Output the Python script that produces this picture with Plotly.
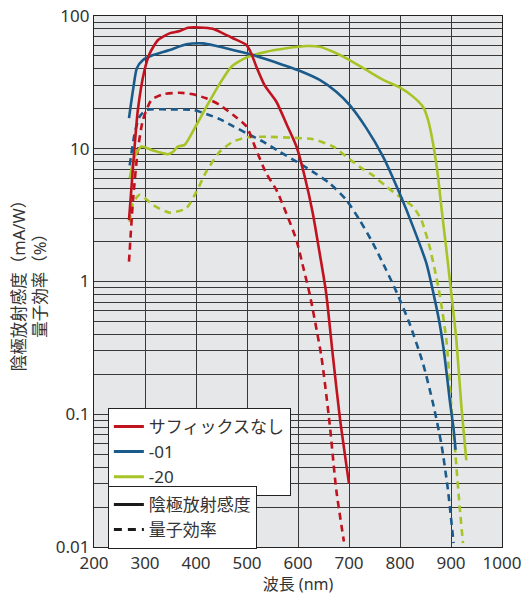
import plotly.graph_objects as go

# ---- data ----
red_solid_x = [268.6, 276.5, 286, 299, 309, 325.5, 348, 368, 384, 407, 433, 453, 472.5, 499, 508.6, 518.4, 534.7, 557.6, 577, 597, 613, 629, 642.5, 655, 668.6, 681.8, 700]
red_solid_y = [2.9, 7.3, 19.6, 39, 52, 66, 74, 77, 81.7, 82, 80, 74, 68, 60.5, 52, 41.5, 30, 22.6, 15.5, 10.4, 6.2, 3.27, 1.63, 0.83, 0.27, 0.096, 0.030]

red_dash_x = [268.6, 276.5, 286, 296, 312.5, 335, 368, 394, 420, 446.5, 472.5, 499, 518, 538, 557.6, 577, 597, 610, 623, 646, 662, 675, 690]
red_dash_y = [1.41, 4.1, 9.8, 16.5, 23.3, 25.7, 26.4, 25.7, 24, 21.4, 18, 14.7, 9.8, 6.5, 4.9, 3.27, 2.05, 1.29, 0.8, 0.27, 0.085, 0.027, 0.011]

blue_solid_x = [268.6, 276.5, 284, 296, 315.7, 348.4, 381, 413.7, 440, 472.5, 505, 538, 570.6, 603, 642.5, 675, 701, 734, 767, 799.4, 825.5, 851.8, 866, 877.8, 887.6, 897.5, 905.3, 909]
blue_solid_y = [17, 27.7, 40.4, 46.6, 50.8, 55.5, 61.2, 62.2, 59.4, 55.5, 51.7, 47.2, 42.8, 38.7, 33, 26.9, 21.4, 14.3, 8.7, 4.6, 2.59, 1.37, 0.8, 0.48, 0.27, 0.128, 0.076, 0.054]

blue_dash_x = [270, 279.8, 289.6, 302.7, 342, 394, 420, 446.5, 472.5, 499, 531.4, 564, 597, 629.4, 662, 695, 721, 747, 773, 794, 819, 845, 864.7, 881, 894, 905]
blue_dash_y = [7.5, 13.1, 17.5, 19.6, 19.8, 19.6, 18.3, 16.7, 14.8, 13.1, 11.3, 9.5, 8.0, 6.7, 5.5, 4.1, 2.9, 1.94, 1.22, 0.82, 0.48, 0.242, 0.121, 0.060, 0.027, 0.0107]

green_solid_x = [270, 279.8, 293, 315.7, 345, 355, 364.7, 377.8, 400.8, 420.4, 443, 469.4, 499, 538, 577, 616.5, 642.5, 668.6, 701.4, 734, 767, 799.4, 825.5, 845, 855, 864.7, 874.5, 881, 891, 900.8, 910.6, 920.4, 930]
green_solid_y = [6.0, 8.7, 10.4, 9.7, 9.1, 9.5, 10.4, 10.7, 15.1, 20.7, 29.4, 41.5, 48.8, 53.8, 57.1, 59.4, 58.7, 53.8, 46.6, 39.2, 33, 29, 24.7, 20.7, 16.5, 11, 6.2, 3.66, 1.73, 0.8, 0.36, 0.114, 0.045]

green_dash_x = [270, 276.5, 289.6, 315.7, 348.4, 381, 400.8, 420, 446.5, 472.5, 499, 538, 590, 629.4, 668.6, 695, 721, 747, 773, 799.4, 825.5, 842, 858, 871, 877.8, 891, 900.8, 909, 917, 923.5]
green_dash_y = [2.8, 3.9, 4.5, 3.77, 3.3, 3.56, 4.75, 6.7, 9.5, 11.3, 12.2, 12.3, 12.1, 11.8, 10.4, 8.7, 7.3, 6.3, 5.2, 4.35, 3.66, 2.9, 1.83, 1.09, 0.8, 0.36, 0.114, 0.048, 0.020, 0.0107]

series_names = ["サフィックスなし", "-01", "-20"]
style_names = ["陰極放射感度", "量子効率"]
x_ticks = [200, 300, 400, 500, 600, 700, 800, 900, 1000]
y_major = [0.01, 0.1, 1, 10, 100]
y_major_text = ["0.01", "0.1", "1", "10", "100"]

RED = "#c1121f"
BLUE = "#1a5b8c"
GREEN = "#a6c425"
DASH = "7px,5px"
FONT = "Noto Sans, Noto Sans CJK JP"
TXT = "#333333"

fig = go.Figure()

def add(x, y, color, dash):
    fig.add_trace(go.Scatter(x=x, y=y, mode="lines",
                             line=dict(color=color, width=2.6, dash=dash, shape="spline", smoothing=0.6),
                             showlegend=False, hoverinfo="skip"))

add(green_dash_x, green_dash_y, GREEN, DASH)
add(blue_dash_x, blue_dash_y, BLUE, DASH)
add(red_dash_x, red_dash_y, RED, DASH)
add(green_solid_x, green_solid_y, GREEN, "solid")
add(blue_solid_x, blue_solid_y, BLUE, "solid")
add(red_solid_x, red_solid_y, RED, "solid")

# legend entries
for name, color in zip(series_names, [RED, BLUE, GREEN]):
    fig.add_trace(go.Scatter(x=[None], y=[None], mode="lines", name=name,
                             line=dict(color=color, width=3), legend="legend"))
for name, dash in zip(style_names, ["solid", "8px,6px"]):
    fig.add_trace(go.Scatter(x=[None], y=[None], mode="lines", name=name,
                             line=dict(color="#1a1a1a", width=3, dash=dash), legend="legend2"))

# gridline positions at 1..9 x decades
y_grid = []
y_grid_text = []
for e in range(-2, 2):
    for m in range(1, 10):
        v = m * 10 ** e
        y_grid.append(v)
        y_grid_text.append(y_major_text[e + 2] if m == 1 else "")
y_grid.append(100)
y_grid_text.append("100")

GRID = "#383838"
fig.update_layout(
    width=523, height=596,
    margin=dict(l=94, r=21, t=16, b=49),
    paper_bgcolor="white",
    plot_bgcolor="#e6e7e8",
    font=dict(family=FONT, color=TXT, size=14),
    xaxis=dict(range=[200, 1000], tickvals=x_ticks, ticktext=[str(v) for v in x_ticks],
               showgrid=True, gridcolor=GRID, gridwidth=1, automargin=False,
               showline=True, linecolor="#222", linewidth=1.2, mirror=True,
               ticks="", ticklen=0, tickfont=dict(size=17, color=TXT),
               title=dict(text="波長 (nm)", font=dict(size=16, color=TXT), standoff=4),
               zeroline=False),
    yaxis=dict(type="log", range=[-2, 2], tickvals=y_grid, ticktext=y_grid_text,
               showgrid=True, gridcolor=GRID, gridwidth=1, automargin=False,
               showline=True, linecolor="#222", linewidth=1.2, mirror=True,
               ticks="", tickfont=dict(size=17, color=TXT),
               title=dict(text="陰極放射感度（mA/W）<br>量子効率（%）", font=dict(size=16.5, color=TXT), standoff=4),
               zeroline=False),
    legend=dict(x=0.034, y=0.262, xanchor="left", yanchor="top",
                bgcolor="white", bordercolor="#222", borderwidth=1,
                font=dict(size=17, color=TXT), tracegroupgap=0, itemwidth=30),
    legend2=dict(x=0.034, y=0.115, xanchor="left", yanchor="top",
                 bgcolor="white", bordercolor="#222", borderwidth=1,
                 font=dict(size=17, color=TXT), tracegroupgap=0, itemwidth=30),
)

fig.write_html("out.html")
